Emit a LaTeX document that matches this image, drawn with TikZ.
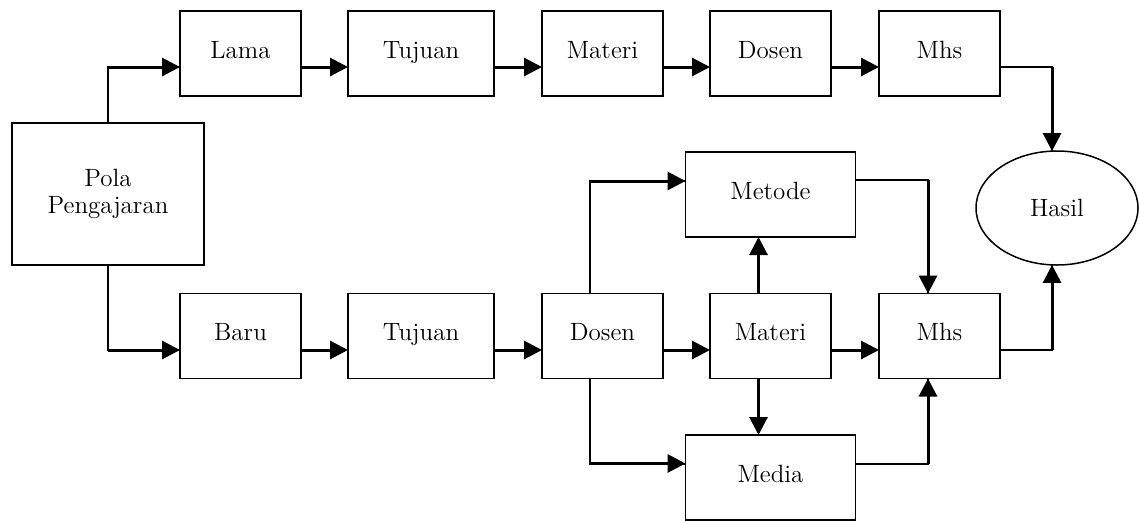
\documentclass[tikz,border=0pt]{standalone}
\usetikzlibrary{arrows.meta,shapes.geometric}
\begin{document}
\begin{tikzpicture}[x=.5pt,y=-.5pt,
 every node/.style={font=\fontsize{12.5}{13.5}\selectfont},
 box/.style={draw,line width=.75pt,minimum width=60.5pt,minimum height=42.5pt,outer sep=0pt,
  text height=1.6ex,text depth=.5ex},
 thn/.style={line width=1pt},
 arr/.style={line width=1.5pt,-{Triangle[length=9pt,width=9pt]}}]
\useasboundingbox (0,0) rectangle (1140,520);
\node at(108,194)[draw,line width=.75pt,minimum width=96pt,minimum height=71pt,outer sep=0pt,align=center](pola){Pola\\Pengajaran};
\foreach \x/\w/\a/\b[count=\i] in {
 240.5/60.5/Lama/Baru,
 421/73/Tujuan/Tujuan,
 602.5/60.5/Materi/Dosen,
 770.5/60.5/Dosen/Materi,
 939.5/60.5/Mhs/Mhs
}{
\node at(\x,53.5)[box,minimum width=\w pt](t\i){\a};
\node at(\x,336)[box,minimum width=\w pt](b\i){\b};
}
\node at(770.5,194.5)[box,minimum width=85pt](metode){Metode};
\node at(770.5,477.5)[box,minimum width=85pt](media){Media};
\node at(1057,208)[draw,ellipse,line width=.75pt,minimum width=81pt,minimum height=57pt,inner sep=0pt,outer sep=0pt](hasil){Hasil};
% rows
\foreach \i[evaluate=\i as\j using int(\i+1)] in {1,...,4}{
\draw[arr] ([yshift=-6.75pt]t\i.east) -- ([yshift=-6.75pt]t\j.west);
\draw[arr] ([yshift=-7pt]b\i.east) -- ([yshift=-7pt]b\j.west);
}
% elbows: thin first leg, thick arrow leg
\draw[thn] (pola.north) |- coordinate[pos=.5](c1) ([yshift=-6.75pt]t1.west);
\draw[arr] (c1) -- ([yshift=-6.75pt]t1.west);
\draw[thn] (pola.south) |- coordinate[pos=.5](c2) ([yshift=-7pt]b1.west);
\draw[arr] (c2) -- ([yshift=-7pt]b1.west);
\draw[thn] ([xshift=-6.25pt]b3.north) |- coordinate[pos=.5](c3) ([yshift=6.75pt]metode.west);
\draw[arr] (c3) -- ([yshift=6.75pt]metode.west);
\draw[thn] ([xshift=-6.25pt]b3.south) |- coordinate[pos=.5](c4) ([yshift=7pt]media.west);
\draw[arr] (c4) -- ([yshift=7pt]media.west);
\draw[thn] ([yshift=-6.75pt]t5.east) -| coordinate[pos=.5](c5) (hasil.95);
\draw[arr] (c5) -- (hasil.95);
\draw[thn] ([yshift=-7pt]b5.east) -| coordinate[pos=.5](c6) (hasil.265);
\draw[arr] (c6) -- (hasil.265);
\draw[thn] ([yshift=7.5pt]metode.east) -| coordinate[pos=.5](c7) ([xshift=-5.75pt]b5.north);
\draw[arr] (c7) -- ([xshift=-5.75pt]b5.north);
\draw[thn] ([yshift=7pt]media.east) -| coordinate[pos=.5](c8) ([xshift=-5.75pt]b5.south);
\draw[arr] (c8) -- ([xshift=-5.75pt]b5.south);
% materi up and down
\draw[arr] ([xshift=-6pt]b4.north) -- ([xshift=-6pt]metode.south);
\draw[arr] ([xshift=-6pt]b4.south) -- ([xshift=-6pt]media.north);
\end{tikzpicture}
\end{document}
